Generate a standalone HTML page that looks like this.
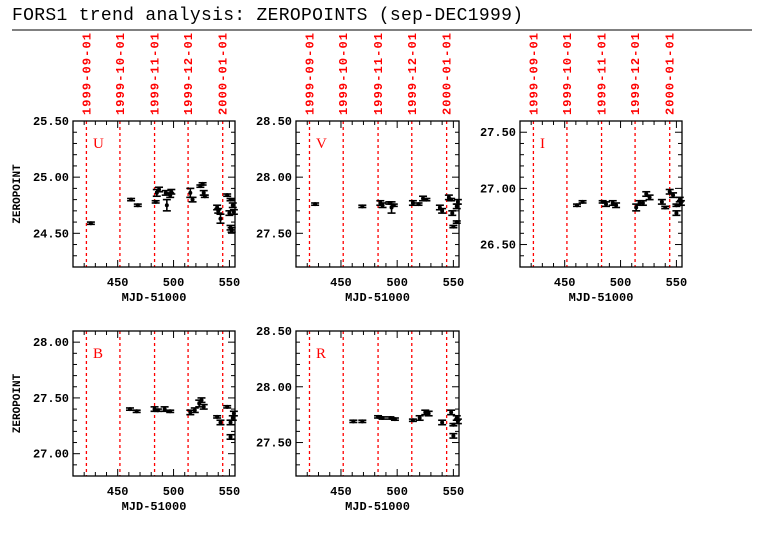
<!DOCTYPE html>
<html><head><meta charset="utf-8"><style>
body{margin:0;background:#fff;}
svg{display:block;font-family:"Liberation Mono",monospace;}
</style></head><body>
<svg id="c" width="782" height="542" xmlns="http://www.w3.org/2000/svg">
<text x="12" y="20" font-size="18" font-family="Liberation Mono, monospace" textLength="511">FORS1 trend analysis: ZEROPOINTS (sep-DEC1999)</text>
<line x1="12" y1="30" x2="752" y2="30" stroke="#000" stroke-width="1"/>
</svg>
<script>
const dateLabels=["1999-09-01","1999-10-01","1999-11-01","1999-12-01","2000-01-01"];
const dateMjd=[422,452,483,513,544];
const xTicks=[450,500,550];
const uMjd=[426,462,468,484,485,487,493,494,497,498,515,517,524,526,527,528,539,540,542,548,551,550,551,552,553,554];
const uZp=[24.59,24.80,24.75,24.78,24.86,24.89,24.86,24.75,24.84,24.87,24.86,24.80,24.92,24.94,24.86,24.83,24.73,24.70,24.63,24.84,24.80,24.68,24.55,24.53,24.75,24.69];
const uErr=[0.01,0.01,0.01,0.01,0.03,0.02,0.02,0.05,0.02,0.02,0.04,0.02,0.01,0.01,0.02,0.01,0.02,0.02,0.04,0.01,0.01,0.02,0.02,0.02,0.02,0.02];
const vMjd=[427,469,485,487,493,495,497,514,519,523,526,538,540,546,548,549,550,553,553,554];
const vZp=[27.76,27.74,27.77,27.75,27.77,27.73,27.75,27.77,27.76,27.81,27.80,27.73,27.70,27.82,27.80,27.68,27.56,27.60,27.74,27.78];
const vErr=[0.01,0.01,0.02,0.02,0.01,0.05,0.01,0.02,0.01,0.02,0.01,0.02,0.02,0.02,0.01,0.02,0.01,0.01,0.02,0.02];
const iMjd=[461,466,484,487,493,496,514,517,520,523,526,537,540,544,547,550,550,553,554];
const iZp=[26.85,26.88,26.88,26.86,26.87,26.85,26.83,26.87,26.87,26.95,26.92,26.88,26.83,26.97,26.94,26.85,26.78,26.90,26.87];
const iErr=[0.01,0.01,0.01,0.02,0.02,0.02,0.03,0.02,0.02,0.02,0.02,0.02,0.01,0.02,0.02,0.01,0.02,0.02,0.02];
const bMjd=[461,467,483,486,492,497,515,519,523,525,527,539,542,548,551,551,553,554];
const bZp=[27.40,27.38,27.40,27.39,27.40,27.38,27.37,27.39,27.45,27.48,27.42,27.33,27.28,27.42,27.28,27.15,27.32,27.36];
const bErr=[0.01,0.01,0.02,0.01,0.02,0.01,0.02,0.02,0.03,0.02,0.02,0.01,0.02,0.01,0.02,0.02,0.02,0.02];
const rMjd=[461,469,483,487,494,498,514,520,525,528,540,548,550,550,553,554];
const rZp=[27.69,27.69,27.73,27.72,27.72,27.71,27.70,27.72,27.77,27.76,27.68,27.77,27.66,27.56,27.72,27.69];
const rErr=[0.01,0.01,0.01,0.01,0.01,0.01,0.01,0.02,0.02,0.02,0.02,0.02,0.01,0.02,0.02,0.02];

const NS="http://www.w3.org/2000/svg";
const svg=document.getElementById('c');
function mk(t,a,p){const e=document.createElementNS(NS,t);for(const k in a)e.setAttribute(k,a[k]);(p||svg).appendChild(e);return e;}
const XMIN=410,XMAX=555;
function panel(name,L,T,R,B,ymin,ymax,yTicks,mjd,zp,err,showDates,showYTitle){
  const g=mk('g',{});
  
  
  const sx=v=>L+(v-XMIN)/(XMAX-XMIN)*(R-L);
  const sy=v=>B-(v-ymin)/(ymax-ymin)*(B-T);
  dateMjd.forEach((d,i)=>{
    const ln=mk('line',{x1:sx(d),x2:sx(d),y1:T,y2:B,stroke:'#f00','stroke-width':1.3,'stroke-dasharray':'3,3'},g);
    
    
    if(showDates){
      const tx=mk('text',{x:0,y:0,transform:`translate(${sx(d)+4},${T-6}) rotate(-90)`,fill:'#f00','font-size':12,'font-weight':'bold',textLength:82},g);
      tx.textContent=dateLabels[i];
      
      
    }
  });
  const fr=mk('rect',{x:L,y:T,width:R-L,height:B-T,fill:'none',stroke:'#000','stroke-width':1.3},g);
  
  
  for(let v=420;v<=XMAX;v+=10){
    const maj=v%50===0,len=maj?7:4,x=sx(v);
    mk('line',{x1:x,x2:x,y1:B,y2:B-len,stroke:'#000'},g);
    mk('line',{x1:x,x2:x,y1:T,y2:T+len,stroke:'#000'},g);
  }
  xTicks.forEach(v=>{
    const t=mk('text',{x:sx(v),y:B+19,'text-anchor':'middle','font-size':12,'font-weight':'bold'},g);
    t.textContent=v;
    
    
  });
  const xt=mk('text',{x:(L+R)/2,y:B+34,'text-anchor':'middle','font-size':12,'font-weight':'bold'},g);
  xt.textContent='MJD-51000';
  
  
  const start=Math.ceil(ymin*10-1e-6);
  for(let k=start;k<=Math.floor(ymax*10+1e-6);k++){
    const v=k/10,maj=(k%5===0),len=maj?7:4,y=sy(v);
    mk('line',{x1:L,x2:L+len,y1:y,y2:y,stroke:'#000'},g);
    mk('line',{x1:R,x2:R-len,y1:y,y2:y,stroke:'#000'},g);
  }
  yTicks.forEach(v=>{
    const t=mk('text',{x:L-4,y:sy(v)+4,'text-anchor':'end','font-size':12,'font-weight':'bold'},g);
    t.textContent=v.toFixed(2);
    
    
  });
  if(showYTitle){
    const yt=mk('text',{x:0,y:0,transform:`translate(20,${(T+B)/2}) rotate(-90)`,'text-anchor':'middle','font-size':11,'font-weight':'bold'},g);
    yt.textContent='ZEROPOINT';
    
    
  }
  const lb=mk('text',{x:L+20,y:T+27,fill:'#f00','font-size':15,'font-family':'Liberation Serif, serif'},g);
  lb.textContent=name;
  
  
  mjd.forEach((m,i)=>{
    const x=sx(m),y=sy(zp[i]),y1=sy(zp[i]+err[i]),y2=sy(zp[i]-err[i]);
    const pg=mk('g',{stroke:'#000','stroke-width':1.6},g);
    
    
    mk('line',{x1:x,x2:x,y1:y1,y2:y2},pg);
    mk('line',{x1:x-4,x2:x+4,y1:y1,y2:y1},pg);
    mk('line',{x1:x-4,x2:x+4,y1:y2,y2:y2},pg);
    mk('circle',{cx:x,cy:y,r:2,fill:'#000',stroke:'none'},pg);
  });
}
panel('U',73,121,235,267,24.2,25.5,[24.5,25.0,25.5],uMjd,uZp,uErr,true,true);
panel('V',296,121,459,267,27.2,28.5,[27.5,28.0,28.5],vMjd,vZp,vErr,true,false);
panel('I',520,121,682,267,26.3,27.6,[26.5,27.0,27.5],iMjd,iZp,iErr,true,false);
panel('B',73,331,235,476,26.8,28.1,[27.0,27.5,28.0],bMjd,bZp,bErr,false,true);
panel('R',296,331,459,476,27.2,28.5,[27.5,28.0,28.5],rMjd,rZp,rErr,false,false);
</script>
</body></html>
